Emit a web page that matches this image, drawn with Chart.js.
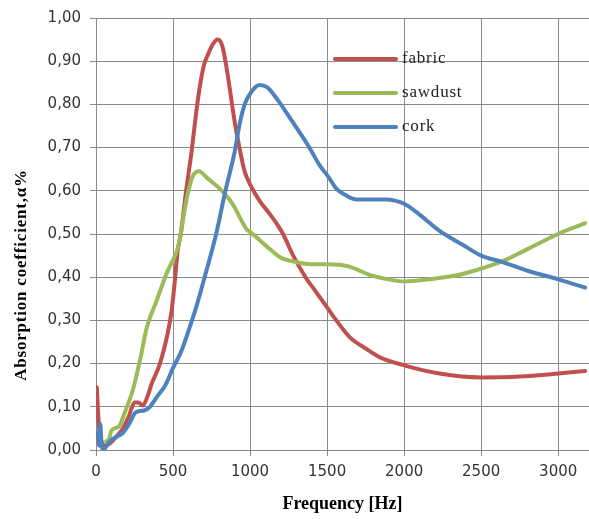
<!DOCTYPE html>
<html>
<head>
<meta charset="utf-8">
<script src="https://cdn.jsdelivr.net/npm/chart.js@4/dist/chart.umd.min.js"></script>
<style>
    html, body { margin: 0; padding: 0; background: #fff; }
    #wrap { width: 589px; height: 519px; }
</style>
</head>
<body>
<div id="wrap"><canvas id="chart" width="589" height="519"></canvas></div>
<script>
// --- Data ---
const fabricFreq = [5, 20, 35, 60, 90, 130, 175, 215, 250, 275, 305, 335, 362, 415, 465, 490, 510, 530, 550, 585, 620, 650, 672, 700, 726, 760, 790, 820, 845, 868, 900, 931, 965, 1000, 1065, 1120, 1180, 1214, 1280, 1360, 1430, 1500, 1560, 1650, 1750, 1840, 2000, 2230, 2500, 2750, 3000, 3175];
const fabricVal  = [0.145, 0.05, 0.02, 0.01, 0.015, 0.03, 0.05, 0.08, 0.11, 0.11, 0.103, 0.125, 0.154, 0.2, 0.27, 0.32, 0.385, 0.46, 0.5, 0.6, 0.69, 0.78, 0.837, 0.89, 0.915, 0.94, 0.95, 0.935, 0.89, 0.837, 0.76, 0.7, 0.645, 0.615, 0.575, 0.55, 0.52, 0.5, 0.45, 0.4, 0.365, 0.33, 0.3, 0.26, 0.235, 0.215, 0.196, 0.177, 0.168, 0.17, 0.177, 0.183];

const sawdustFreq = [65, 85, 100, 150, 185, 240, 285, 330, 393, 460, 500, 525, 550, 575, 600, 630, 669, 720, 800, 886, 980, 1000, 1106, 1200, 1260, 1400, 1513, 1640, 1780, 1900, 2000, 2160, 2350, 2500, 2640, 2800, 3000, 3175];
const sawdustVal  = [0.02, 0.025, 0.045, 0.055, 0.085, 0.14, 0.207, 0.284, 0.345, 0.41, 0.44, 0.46, 0.5, 0.555, 0.6, 0.635, 0.645, 0.63, 0.606, 0.57, 0.51, 0.505, 0.472, 0.445, 0.438, 0.43, 0.43, 0.425, 0.405, 0.395, 0.39, 0.395, 0.405, 0.42, 0.437, 0.465, 0.5, 0.525];

const corkFreq = [3, 10, 20, 28, 35, 45, 60, 90, 130, 175, 215, 252, 280, 317, 350, 393, 450, 500, 555, 608, 650, 705, 780, 840, 900, 930, 965, 1010, 1062, 1110, 1180, 1275, 1385, 1450, 1513, 1560, 1620, 1690, 1880, 2000, 2100, 2230, 2380, 2500, 2640, 2800, 3000, 3175];
const corkVal  = [0.03, 0.04, 0.01, 0.06, 0.02, 0.0, 0.005, 0.02, 0.03, 0.04, 0.06, 0.085, 0.09, 0.092, 0.1, 0.122, 0.15, 0.19, 0.23, 0.284, 0.33, 0.4, 0.5, 0.6, 0.69, 0.75, 0.8, 0.83, 0.845, 0.84, 0.81, 0.76, 0.7, 0.66, 0.63, 0.605, 0.59, 0.58, 0.58, 0.57, 0.545, 0.507, 0.475, 0.45, 0.435, 0.415, 0.395, 0.376];

const seriesNames = ['fabric', 'sawdust', 'cork'];
const seriesColors = ['#C0504D', '#9BBB59', '#4F81BD'];

// axis ticks
const xTicks = [0, 500, 1000, 1500, 2000, 2500, 3000];
const yTicks = [0, 0.1, 0.2, 0.3, 0.4, 0.5, 0.6, 0.7, 0.8, 0.9, 1.0];
const xMin = 0, xMax = 3200;
const yMin = 0, yMax = 1;

const yTitle = 'Absorption coefficient,\u03b1%';
const xTitle = 'Frequency [Hz]';

const GRID = '#8a8a8a';

function toPoints(xs, ys) {
    return xs.map((x, i) => ({ x: x, y: ys[i] }));
}

// legend drawn inside the plot, like the original
const insideLegend = {
    id: 'insideLegend',
    afterDatasetsDraw(chart) {
        const { ctx, chartArea } = chart;
        const x0 = chartArea.left + 239;
        const y0 = chartArea.top + 41;
        ctx.save();
        ctx.font = '17px "Liberation Serif", serif';
        ctx.letterSpacing = '0.8px';
        ctx.textBaseline = 'middle';
        ctx.fillStyle = '#222';
        chart.data.datasets.forEach((ds, i) => {
            const y = y0 + i * 34;
            ctx.strokeStyle = ds.borderColor;
            ctx.lineWidth = 4;
            ctx.lineCap = 'round';
            ctx.beginPath();
            ctx.moveTo(x0, y);
            ctx.lineTo(x0 + 61, y);
            ctx.stroke();
            ctx.fillText(ds.label, x0 + 67, y);
        });
        ctx.restore();
    }
};

// y-axis title sits a bit below the plot centre in the original
const yAxisTitle = {
    id: 'yAxisTitle',
    afterDraw(chart) {
        const { ctx, chartArea } = chart;
        ctx.save();
        ctx.translate(22, chartArea.top + 257);
        ctx.rotate(-Math.PI / 2);
        ctx.font = 'bold 17px "Liberation Serif", serif';
        ctx.letterSpacing = '0.8px';
        ctx.fillStyle = '#000';
        ctx.textAlign = 'center';
        ctx.textBaseline = 'middle';
        ctx.fillText(yTitle, 0, 0);
        ctx.restore();
    }
};

const ctx = document.getElementById('chart').getContext('2d');
new Chart(ctx, {
    type: 'line',
    data: {
        datasets: [
            { label: seriesNames[0], data: toPoints(fabricFreq, fabricVal), borderColor: seriesColors[0], order: 3 },
            { label: seriesNames[1], data: toPoints(sawdustFreq, sawdustVal), borderColor: seriesColors[1], order: 2 },
            { label: seriesNames[2], data: toPoints(corkFreq, corkVal), borderColor: seriesColors[2], order: 1 }
        ]
    },
    options: {
        responsive: false,
        animation: false,
        layout: { padding: { top: 16, right: 0, left: 0, bottom: 0 } },
        elements: {
            point: { radius: 0 },
            line: { borderWidth: 4, cubicInterpolationMode: 'monotone', borderCapStyle: 'round', borderJoinStyle: 'round', fill: false }
        },
        plugins: {
            legend: { display: false },
            tooltip: { enabled: false }
        },
        scales: {
            x: {
                type: 'linear',
                min: xMin,
                max: xMax,
                afterBuildTicks: (scale) => { scale.ticks = xTicks.map(v => ({ value: v })); },
                afterFit: (scale) => { scale.height = 69; },
                ticks: {
                    autoSkip: false,
                    padding: 7,
                    color: '#333',
                    font: { family: 'DejaVu Sans', size: 15 },
                    maxRotation: 0,
                    callback: (v) => String(v)
                },
                grid: { color: GRID, lineWidth: 1, tickLength: 6 },
                border: { color: GRID, width: 1 },
                title: {
                    display: true,
                    text: xTitle,
                    color: '#000',
                    font: { family: 'Liberation Serif', size: 18, weight: 'bold' },
                    padding: { top: 0, bottom: 4 }
                }
            },
            y: {
                type: 'linear',
                min: yMin,
                max: yMax,
                afterBuildTicks: (scale) => { scale.ticks = yTicks.map(v => ({ value: v })); },
                afterFit: (scale) => { scale.width = 96; },
                ticks: {
                    autoSkip: false,
                    padding: 9,
                    color: '#333',
                    font: { family: 'DejaVu Sans', size: 15 },
                    callback: (v) => v.toFixed(2).replace('.', ',')
                },
                grid: { color: GRID, lineWidth: 1, tickLength: 6 },
                border: { color: GRID, width: 1 }
            }
        }
    },
    plugins: [insideLegend, yAxisTitle]
});
</script>
</body>
</html>
